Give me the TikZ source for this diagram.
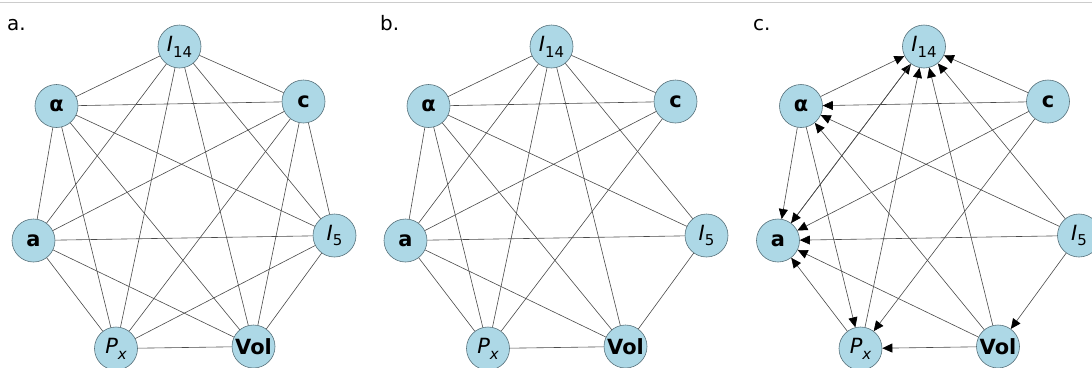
\documentclass[tikz,border=0pt]{standalone}
\usepackage{fontspec}
\setmainfont{DejaVu Sans}
\usetikzlibrary{arrows.meta}
\definecolor{nodeblue}{HTML}{ADD8E6}
\definecolor{nodeedge}{HTML}{56707A}
\definecolor{edgegray}{HTML}{4A4A4A}
\newcommand\mysub[2]{{#1}\raisebox{-0.28em}{\fontsize{15}{15}\selectfont #2}}
\tikzset{
  vtx/.style={circle, fill=nodeblue, draw=nodeedge, line width=0.6bp,
    minimum size=43bp, inner sep=0pt, font=\fontsize{21}{21}\selectfont},
  lnk/.style={draw=edgegray, line width=0.6bp},
  arr/.style={lnk, -{Triangle[length=10bp,width=9bp,color=black]}},
  panlabel/.style={anchor=base west, inner sep=0pt, font=\fontsize{20}{20}\selectfont},
}
\newcommand\placenodes[2]{%
  \begin{scope}[xshift=#2bp]
    \node[vtx] (#1I14) at (179.5,46.5) {\mysub{\itshape I}{14}};
    \node[vtx] (#1al)  at (56.5,106)   {\bfseries α};
    \node[vtx] (#1c)   at (303.5,101.5){\bfseries c};
    \node[vtx] (#1a)   at (33.5,240.5) {\bfseries a};
    \node[vtx] (#1I5)  at (334.5,235.5){\mysub{\itshape I}{5}};
    \node[vtx] (#1Px)  at (116,348.5)  {\mysub{\itshape P}{\itshape x}};
    \node[vtx] (#1Vol) at (253.5,346.5){\bfseries Vol};
  \end{scope}}
\begin{document}
\begin{tikzpicture}[x=1bp,y=-1bp]
  \useasboundingbox (0,0) rectangle (1092,367);
  \clip (0,0) rectangle (1092,367);
  \fill[white] (0,0) rectangle (1092,367);
  \draw[black!20, line width=1bp] (0,2.5) -- (1092,2.5);
  \node[panlabel] (la) at (7,30.5) {a.};
  \node[panlabel] (lb) at (380,30.5) {b.};
  \node[panlabel] (lc) at (753,30.5) {c.};
  \placenodes{pa}{0}
  \placenodes{pb}{372}
  \placenodes{pc}{744.5}
  % panel a: complete graph
  \foreach \u/\v in {I14/al,I14/c,I14/a,I14/I5,I14/Px,I14/Vol,
                     al/c,al/a,al/I5,al/Px,al/Vol,
                     c/a,c/I5,c/Px,c/Vol,
                     a/I5,a/Px,a/Vol,
                     I5/Px,I5/Vol,Px/Vol}
    \draw[lnk] (pa\u) -- (pa\v);
  % panel b
  \foreach \u/\v in {I14/al,I14/c,I14/a,I14/I5,I14/Px,I14/Vol,
                     al/c,al/a,al/I5,al/Px,al/Vol,
                     c/a,c/Px,
                     a/I5,a/Px,a/Vol,
                     I5/Vol,Px/Vol}
    \draw[lnk] (pb\u) -- (pb\v);
  % panel c: directed
  \foreach \u/\v in {al/I14,a/I14,I14/a,Px/I14,Vol/I14,I5/I14,c/I14,
                     c/al,I5/al,Vol/al,
                     al/a,c/a,I5/a,Vol/a,Px/a,
                     al/Px,c/Px,Vol/Px,
                     I5/Vol}
    \draw[arr] (pc\u) -- (pc\v);
\end{tikzpicture}
\end{document}
